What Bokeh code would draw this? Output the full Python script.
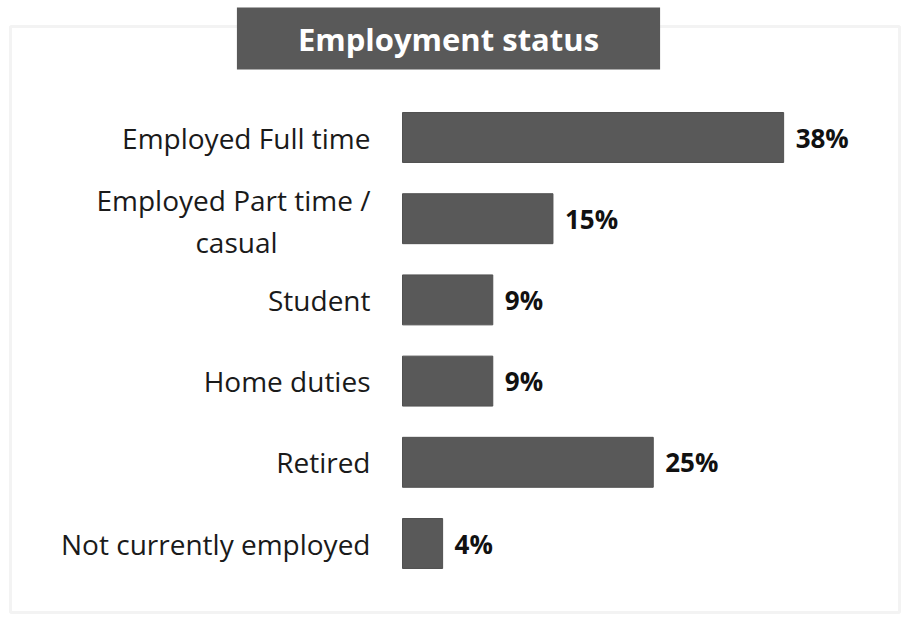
from bokeh.plotting import figure
from bokeh.models import Range1d, ColumnDataSource, Label, BoxAnnotation
from bokeh.embed import file_html
from bokeh.resources import INLINE
from bokeh.core.properties import value

# ---- data ----
categories = ["Employed Full time", "Employed Part time /\ncasual", "Student",
              "Home duties", "Retired", "Not currently employed"]
percent = [38, 15, 9, 9, 25, 4]
title_text = "Employment status"

idx = list(range(len(categories)))
has2 = ["\n" in c for c in categories]
line1 = [c.split("\n")[0] for c in categories]
line2 = [c.split("\n")[1] if h else "" for c, h in zip(categories, has2)]
pct_labels = [f"{v}%" for v in percent]

src = ColumnDataSource(dict(y=idx, pct=percent, lab=pct_labels))
single = ColumnDataSource(dict(y=[i for i, h in zip(idx, has2) if not h],
                               t=[l for l, h in zip(line1, has2) if not h]))
multi1 = ColumnDataSource(dict(y=[i for i, h in zip(idx, has2) if h],
                               t=[l for l, h in zip(line1, has2) if h]))
multi2 = ColumnDataSource(dict(y=[i for i, h in zip(idx, has2) if h],
                               t=[l for l, h in zip(line2, has2) if h]))

W, H = 908, 614
PX = 10.03          # pixels per percentage point
X0 = 402            # pixel of the bars' base
Y0, DY = 137, 81.2  # pixel of the first bar centre, spacing

p = figure(width=W, height=H, output_backend="svg", toolbar_location=None,
           x_range=Range1d(-X0 / PX, (W - X0) / PX),
           y_range=Range1d((H - Y0) / DY, -Y0 / DY),
           min_border=0)
p.xaxis.visible = False
p.yaxis.visible = False
p.xgrid.visible = False
p.ygrid.visible = False
p.outline_line_color = None
p.background_fill_color = "white"
p.border_fill_color = "white"

frame_box = BoxAnnotation(left=10, right=899, top=H - 26, bottom=H - 612,
                          left_units="screen", right_units="screen",
                          top_units="screen", bottom_units="screen",
                          fill_alpha=0, line_color="#d6d6d6", line_width=3)
p.add_layout(frame_box)

p.hbar(y="y", right="pct", left=0, height=0.615, source=src,
       fill_color="#595959", line_color="#505050", line_width=1)

FONT = value("Open Sans")
p.text(x="pct", y="y", text="lab", source=src, x_offset=12,
       text_font=FONT, text_font_style="bold", text_font_size="26px",
       text_color="#111111", text_align="left", text_baseline="middle")

p.text(x=0, y="y", text="t", source=single, x_offset=-32,
       text_font=FONT, text_font_size="28px", text_color="#1a1a1a",
       text_align="right", text_baseline="middle")
p.text(x=0, y="y", text="t", source=multi1, x_offset=-32, y_offset=-19,
       text_font=FONT, text_font_size="28px", text_color="#1a1a1a",
       text_align="right", text_baseline="middle")
p.text(x=0, y="y", text="t", source=multi2, x_offset=-166, y_offset=23,
       text_font=FONT, text_font_size="28px", text_color="#1a1a1a",
       text_align="center", text_baseline="middle")

title = Label(x=448, y=H - 38, x_units="screen", y_units="screen", text=title_text,
              text_font="Open Sans", text_font_style="bold", text_font_size="31px",
              text_color="white", text_align="center", text_baseline="middle",
              background_fill_color="#595959", background_fill_alpha=1.0,
              padding=dict(left=61, right=61, top=10, bottom=10))
p.add_layout(title)

open("out.html", "w").write(file_html(p, INLINE))
